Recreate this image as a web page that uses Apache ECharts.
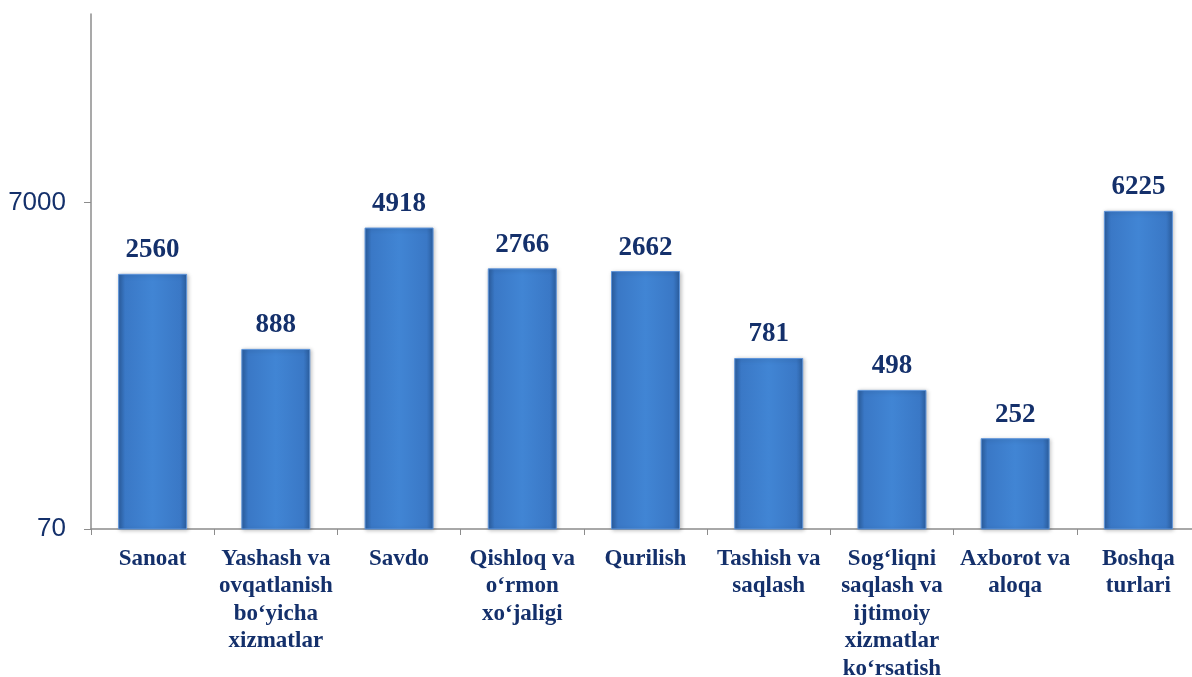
<!DOCTYPE html>
<html>
<head>
<meta charset="utf-8">
<script src="https://cdn.jsdelivr.net/npm/echarts@6/dist/echarts.min.js"></script>
<style>
  html, body { margin: 0; padding: 0; background: #fff; }
  #chart { width: 1192px; height: 677px; }
</style>
</head>
<body>
<div id="chart"></div>
<script>
  // kategoriyalar va qiymatlar
  var categories = [
    'Sanoat',
    'Yashash va\novqatlanish\nbo‘yicha\nxizmatlar',
    'Savdo',
    'Qishloq va\no‘rmon\nxo‘jaligi',
    'Qurilish',
    'Tashish va\nsaqlash',
    'Sog‘liqni\nsaqlash va\nijtimoiy\nxizmatlar\nko‘rsatish',
    'Axborot va\naloqa',
    'Boshqa\nturlari'
  ]
  var values = [2560, 888, 4918, 2766, 2662, 781, 498, 252, 6225]
  var yTicks = [70, 7000]

  var navy = '#14306b'
  var chart = echarts.init(document.getElementById('chart'))

  chart.setOption({
    animation: false,
    grid: {
      left: 91,
      right: -8,
      top: 14,
      bottom: 148,
      containLabel: false,
      outerBoundsMode: 'none'
    },
    xAxis: {
      type: 'category',
      data: categories,
      axisLine: { lineStyle: { color: '#8c8c8c', width: 1.5 } },
      axisTick: { show: true, length: 6, lineStyle: { color: '#8c8c8c' } },
      axisLabel: {
        interval: 0,
        margin: 16,
        color: navy,
        fontFamily: 'Liberation Serif',
        fontWeight: 'bold',
        fontSize: 23,
        lineHeight: 27.5
      }
    },
    yAxis: {
      type: 'log',
      min: 70,
      max: 100000,
      axisLine: { show: true, lineStyle: { color: '#8c8c8c', width: 1.5 } },
      axisTick: { show: true, length: 7, customValues: yTicks, lineStyle: { color: '#8c8c8c' } },
      axisLabel: {
        customValues: yTicks,
        formatter: function (v) { return String(v) },
        margin: 25,
        color: navy,
        fontFamily: 'Liberation Sans',
        fontSize: 26
      },
      splitLine: { show: false }
    },
    series: [{
      type: 'bar',
      data: values,
      barWidth: 69,
      itemStyle: {
        color: new echarts.graphic.LinearGradient(0, 0, 1, 0, [
          { offset: 0, color: '#2b5e9f' },
          { offset: 0.1, color: '#3a78c6' },
          { offset: 0.5, color: '#4185d4' },
          { offset: 0.9, color: '#3a78c6' },
          { offset: 1, color: '#2b5e9f' }
        ]),
        borderColor: '#5f95da',
        borderWidth: 1,
        shadowColor: 'rgba(0,0,0,0.25)',
        shadowBlur: 4,
        shadowOffsetX: 1,
        shadowOffsetY: 1
      },
      label: {
        show: true,
        position: 'top',
        distance: 10,
        color: navy,
        fontFamily: 'Liberation Serif',
        fontWeight: 'bold',
        fontSize: 27
      }
    }]
  })
</script>
</body>
</html>
